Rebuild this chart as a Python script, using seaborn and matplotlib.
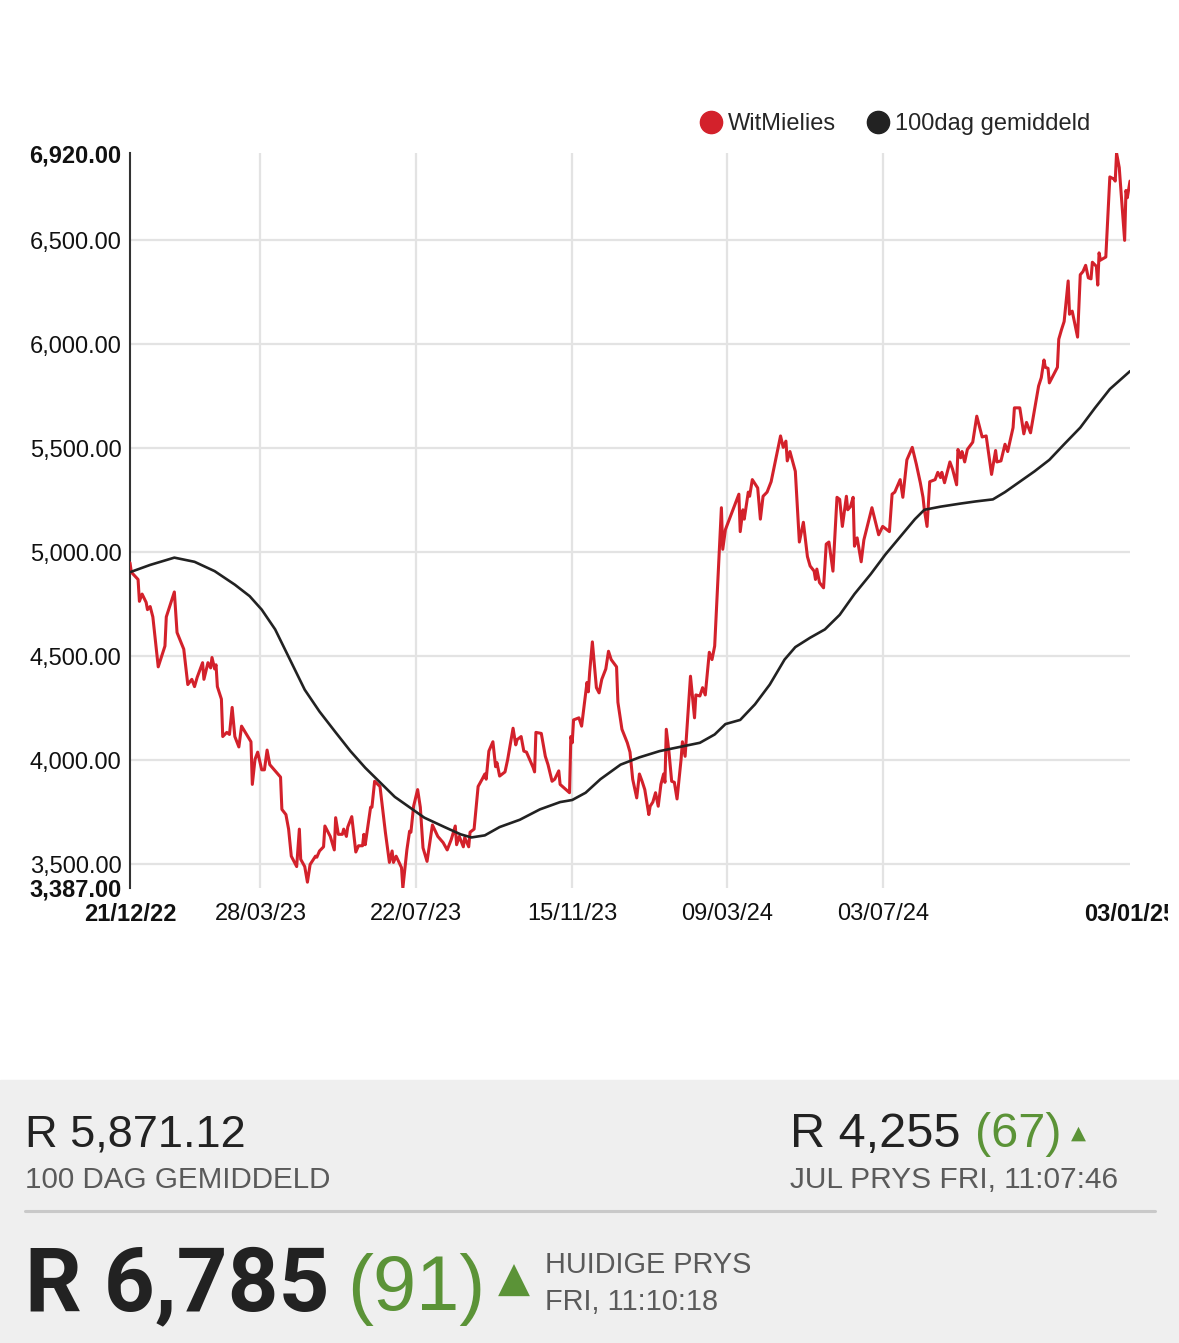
import matplotlib
matplotlib.use("Agg")
import matplotlib.pyplot as plt
import seaborn as sns
import pandas as pd
from matplotlib.lines import Line2D
from matplotlib.transforms import Bbox, TransformedBbox

# ---------------- data ----------------
START = "2022-12-21"
END = "2025-01-03"
series_names = ["WitMielies", "100dag gemiddeld"]

price_days = [
    0, 1, 6, 7, 9, 12, 13, 15, 17, 21,
    26, 27, 33, 35, 40, 43, 46, 48, 50, 54,
    55, 58, 60, 61, 63, 64, 65, 68, 69, 72,
    74, 76, 78, 81, 83, 90, 91, 93, 95, 98,
    100, 102, 104, 112, 113, 116, 118, 120, 124, 126,
    127, 130, 132, 134, 138, 139, 141, 144, 145, 149,
    152, 153, 155, 158, 159, 161, 162, 165, 168, 170,
    173, 174, 175, 179, 180, 182, 186, 190, 193, 195,
    196, 198, 202, 203, 206, 208, 209, 211, 214, 216,
    218, 221, 225, 229, 231, 233, 236, 239, 242, 243,
    245, 248, 249, 252, 253, 256, 259, 262, 264, 265,
    267, 270, 272, 273, 275, 279, 281, 285, 287, 288,
    291, 293, 295, 300, 301, 302, 306, 309, 311, 314,
    316, 319, 320, 327, 328, 329, 330, 334, 336, 340,
    341, 342, 344, 347, 349, 351, 354, 356, 358, 362,
    363, 366, 370, 372, 374, 377, 379, 381, 383, 386,
    387, 389, 391, 393, 395, 397, 398, 399, 401, 403,
    405, 407, 410, 411, 413, 417, 420, 421, 424, 426,
    428, 431, 433, 435, 440, 441, 443, 453, 454, 456,
    457, 460, 461, 463, 467, 469, 471, 474, 477, 484,
    486, 488, 489, 491, 495, 498, 501, 504, 506, 509,
    510, 511, 513, 516, 518, 520, 523, 526, 528, 530,
    533, 534, 536, 538, 539, 541, 544, 546, 552, 557,
    560, 565, 567, 569, 573, 575, 578, 582, 585, 588,
    590, 591, 593, 595, 599, 601, 603, 604, 606, 610,
    612, 615, 616, 618, 619, 621, 623, 627, 630, 634,
    637, 641, 644, 645, 648, 651, 653, 657, 658, 662,
    665, 667, 670, 672, 676, 678, 680, 681, 683, 684,
    690, 691, 693, 695, 698, 699, 701, 705, 707, 709,
    711, 713, 715, 716, 719, 720, 721, 722, 726, 729,
    732, 733, 734, 736, 740, 741, 742, 744,
]
price_values = [
    4950, 4905, 4870, 4765, 4800, 4760, 4725, 4740, 4690, 4450,
    4550, 4690, 4810, 4615, 4535, 4365, 4390, 4355, 4400, 4470,
    4390, 4470, 4445, 4495, 4440, 4460, 4355, 4295, 4115, 4135,
    4125, 4255, 4115, 4065, 4165, 4090, 3885, 4005, 4040, 3955,
    3955, 4050, 3980, 3920, 3765, 3740, 3670, 3540, 3490, 3670,
    3525, 3490, 3415, 3500, 3540, 3535, 3565, 3585, 3685, 3635,
    3570, 3725, 3645, 3645, 3670, 3635, 3680, 3730, 3560, 3590,
    3590, 3645, 3595, 3775, 3775, 3900, 3875, 3655, 3510, 3565,
    3510, 3540, 3485, 3387, 3570, 3660, 3655, 3780, 3860, 3775,
    3580, 3515, 3690, 3635, 3620, 3605, 3570, 3620, 3685, 3595,
    3635, 3585, 3630, 3585, 3655, 3670, 3875, 3910, 3935, 3910,
    4045, 4090, 3970, 3990, 3925, 3945, 4005, 4155, 4075, 4100,
    4115, 4045, 4040, 3965, 3945, 4135, 4130, 4020, 3980, 3900,
    3910, 3950, 3885, 3845, 4115, 4085, 4195, 4205, 4165, 4375,
    4330, 4425, 4570, 4350, 4325, 4390, 4440, 4525, 4485, 4450,
    4280, 4150, 4085, 4040, 3910, 3820, 3935, 3900, 3860, 3740,
    3780, 3800, 3845, 3780, 3885, 3935, 3895, 4150, 4040, 3900,
    3895, 3815, 4005, 4090, 4020, 4405, 4205, 4315, 4310, 4350,
    4315, 4520, 4485, 4550, 5215, 5015, 5110, 5280, 5100, 5205,
    5160, 5290, 5270, 5350, 5310, 5160, 5270, 5290, 5340, 5560,
    5505, 5535, 5440, 5485, 5390, 5050, 5145, 4980, 4935, 4910,
    4870, 4920, 4855, 4830, 5040, 5050, 4910, 5265, 5255, 5125,
    5270, 5205, 5220, 5265, 5030, 5070, 4955, 5060, 5215, 5085,
    5125, 5100, 5280, 5290, 5350, 5265, 5445, 5505, 5425, 5335,
    5265, 5205, 5125, 5340, 5350, 5385, 5360, 5385, 5335, 5435,
    5400, 5325, 5495, 5455, 5485, 5435, 5495, 5530, 5655, 5555,
    5560, 5375, 5490, 5435, 5440, 5520, 5485, 5600, 5695, 5695,
    5570, 5625, 5575, 5650, 5800, 5840, 5925, 5890, 5885, 5815,
    5890, 6025, 6070, 6110, 6305, 6145, 6160, 6035, 6335, 6350,
    6380, 6320, 6315, 6395, 6375, 6285, 6440, 6405, 6420, 6805,
    6795, 6785, 6920, 6850, 6500, 6740, 6705, 6785,
]

avg_days = [
    0, 15, 33, 48, 63, 78, 89, 98, 108, 119,
    130, 141, 153, 164, 175, 186, 197, 208, 219, 234,
    246, 254, 264, 275, 290, 305, 320, 329, 339, 350,
    365, 379, 394, 409, 424, 435, 443, 454, 465, 476,
    487, 495, 506, 517, 528, 539, 551, 562, 573, 584,
    591, 603, 618, 629, 642, 651, 662, 673, 684, 695,
    707, 718, 729, 744,
]
avg_values = [
    4905, 4940, 4975, 4955, 4910, 4845, 4790, 4725, 4630, 4485,
    4340, 4235, 4135, 4045, 3965, 3895, 3825, 3775, 3725, 3680,
    3645, 3630, 3640, 3680, 3715, 3765, 3800, 3810, 3845, 3910,
    3980, 4015, 4045, 4065, 4085, 4125, 4175, 4195, 4270, 4365,
    4485, 4545, 4590, 4630, 4700, 4800, 4895, 4990, 5075, 5160,
    5205, 5220, 5235, 5245, 5255, 5290, 5340, 5390, 5445, 5520,
    5600, 5695, 5785, 5871.12,
]

x_tick_labels = ["21/12/22", "28/03/23", "22/07/23", "15/11/23", "09/03/24", "03/07/24", "03/01/25"]
y_grid_values = [3500, 4000, 4500, 5000, 5500, 6000, 6500]

avg_text = "R 5,871.12"
avg_caption = "100 DAG GEMIDDELD"
jul_price = "R 4,255"
jul_change = "(67)"
jul_caption = "JUL PRYS FRI, 11:07:46"
cur_price = "R 6,785"
cur_change = "(91)"
cur_caption = ["HUIDIGE PRYS", "FRI, 11:10:18"]

# ---------------- styling ----------------
RED = "#d3212b"
BLACK = "#222222"
GRID = "#e3e3e3"
GREEN = "#5b9337"
DARK = "#222222"
GREY = "#5a5a5a"

sns.set_style("white")
plt.rcParams["font.family"] = ["Liberation Sans", "DejaVu Sans"]

W, H = 1179, 1343
fig = plt.figure(figsize=(W / 100, H / 100), dpi=100)
fig.patch.set_facecolor("white")


def fx(px):
    return px / W


def fy(py):
    return 1 - py / H


ax = fig.add_axes([fx(130), fy(888), 1000 / W, 735 / H])

start = pd.Timestamp(START)
price_df = pd.DataFrame({"date": start + pd.to_timedelta(price_days, unit="D"), "value": price_values})
avg_df = pd.DataFrame({"date": start + pd.to_timedelta(avg_days, unit="D"), "value": avg_values})

tick_dates = pd.to_datetime(x_tick_labels, format="%d/%m/%y")
for d in tick_dates[1:-1]:
    ax.axvline(d, color=GRID, lw=1.6, zorder=0)
for v in y_grid_values:
    ax.axhline(v, color=GRID, lw=1.6, zorder=0)

sns.lineplot(data=price_df, x="date", y="value", color=RED, linewidth=2.2, ax=ax, zorder=3)
sns.lineplot(data=avg_df, x="date", y="value", color=BLACK, linewidth=1.9, ax=ax, zorder=4)

ymin, ymax = min(price_values), max(price_values)
ax.set_ylim(ymin, ymax)
ax.set_xlim(pd.Timestamp(START), pd.Timestamp(END))
ax.set_xlabel("")
ax.set_ylabel("")

yt = [ymin] + y_grid_values + [ymax]
ax.set_yticks(yt)
ax.set_yticklabels([f"{v:,.2f}" for v in yt])
ax.set_xticks(tick_dates)
ax.set_xticklabels(x_tick_labels)
ax.tick_params(axis="y", length=0, pad=6, labelsize=17, colors="#111111")
ax.tick_params(axis="x", length=0, pad=11, labelsize=17, colors="#111111")
ylabels = ax.get_yticklabels()
ylabels[0].set_fontweight("bold")
ylabels[-1].set_fontweight("bold")
xlabels = ax.get_xticklabels()
xlabels[0].set_fontweight("bold")
xlabels[-1].set_fontweight("bold")
clip = TransformedBbox(Bbox([[0, 0], [1168 / W, 1]]), fig.transFigure)
xlabels[-1].set_clip_on(True)
xlabels[-1].set_clip_box(clip)
for s in ["top", "right", "bottom"]:
    ax.spines[s].set_visible(False)
ax.spines["left"].set_color("#333333")
ax.spines["left"].set_linewidth(1.5)
ax.grid(False)

handles = [
    Line2D([], [], marker="o", linestyle="None", color=RED, markersize=16),
    Line2D([], [], marker="o", linestyle="None", color=BLACK, markersize=16),
]
fig.legend(handles, series_names, loc="center right", bbox_to_anchor=(fx(1090), fy(124)),
           ncol=2, frameon=False, fontsize=17, handlelength=0.8, handletextpad=0.3,
           columnspacing=1.4, borderpad=0, borderaxespad=0)

# ---------------- bottom panel ----------------
panel = plt.Rectangle((0, 0), 1, fy(1080), transform=fig.transFigure, color="#efefef", zorder=0)
fig.patches.append(panel)
fig.add_artist(Line2D([fx(25), fx(1155)], [fy(1211), fy(1211)], color="#c9c9c9", lw=2.2,
                      transform=fig.transFigure))

SANS = ["Liberation Sans", "DejaVu Sans"]
TRI = ["DejaVu Sans"]

fig.text(fx(25), fy(1147), avg_text, fontsize=32.5, color=DARK, family=SANS, va="baseline")
fig.text(fx(25), fy(1188), avg_caption, fontsize=21.3, color=GREY, family=SANS, va="baseline")

fig.text(fx(790), fy(1147), jul_price, fontsize=35, color=DARK, family=SANS, va="baseline")
fig.text(fx(975), fy(1147), jul_change, fontsize=35, color=GREEN, family=SANS, va="baseline")
fig.text(fx(1071), fy(1139), "▲", fontsize=14, color=GREEN, family=TRI, va="baseline")
fig.text(fx(790), fy(1188), jul_caption, fontsize=21.5, color=GREY, family=SANS, va="baseline")

fig.text(fx(25), fy(1310), cur_price, fontsize=64, color=DARK, family=["Roboto", "DejaVu Sans"],
         fontweight="bold", va="baseline")
fig.text(fx(347), fy(1310), cur_change, fontsize=56, color=GREEN, family=SANS, va="baseline")
fig.text(fx(498), fy(1292), "▲", fontsize=30, color=GREEN, family=TRI, va="baseline")
fig.text(fx(545), fy(1273), cur_caption[0], fontsize=20.8, color=GREY, family=SANS, va="baseline")
fig.text(fx(545), fy(1310), cur_caption[1], fontsize=20.8, color=GREY, family=SANS, va="baseline")

fig.savefig("out.png", dpi=100)
